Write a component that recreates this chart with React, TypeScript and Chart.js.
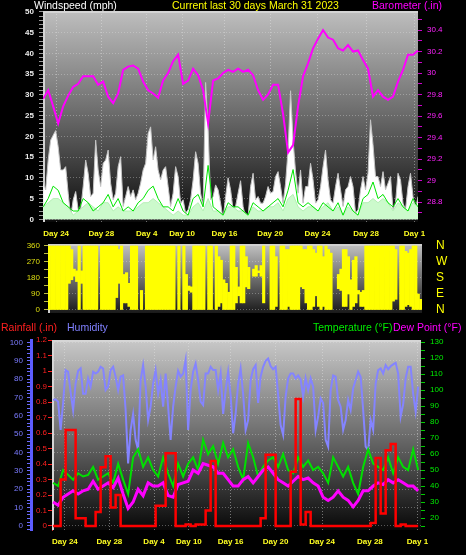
import React, { useEffect, useRef } from 'react';
import { Chart, registerables } from 'chart.js';

Chart.register(...registerables);

const FONT = "'Liberation Sans', Arial, Helvetica, sans-serif";

// ---- time axis (percent of the 30-day window) ----
const TICK_LABELS = ['Day 24', 'Day 28', 'Day 4', 'Day 10', 'Day 16', 'Day 20', 'Day 24', 'Day 28', 'Day 1'];
const TICK_POS = [3.5, 15.55, 27.65, 37.1, 48.4, 60.6, 73.2, 86.15, 99.05];
const TOP_SPAN = [0.05, 100];
const BOTTOM_SPAN = [0.3, 99.23];

// ---- top panel: wind (mph) + barometer (in) ----
const BAROMETER = [
  29.76, 29.84, 29.69, 29.53, 29.69, 29.79, 29.87, 29.9, 29.97, 29.97,
  29.97, 29.89, 29.92, 29.78, 29.72, 29.81, 30.03, 30.06, 30.07, 30.04,
  29.92, 29.84, 29.81, 29.77, 29.93, 30.0, 30.11, 30.17, 29.9, 29.93,
  30.04, 29.98, 29.84, 29.53, 29.93, 29.95, 30.0, 30.03, 30.01,
  30.04, 30.01, 30.03, 29.98, 29.84, 29.75, 29.8, 29.89, 29.89, 29.62,
  29.26, 29.33, 29.69, 29.97, 30.09, 30.23, 30.32, 30.4, 30.33, 30.31,
  30.23, 30.21, 30.26, 30.2, 30.21, 30.12, 30.04, 29.78, 29.84, 29.78,
  29.75, 29.78, 29.92, 30.03, 30.17, 30.17, 30.21,
];
const WIND_GUST = [
  9.2, 7.1, 14.3, 19.1, 20.3, 21.4, 17.5, 11.9, 11.9, 12.7,
  6.3, 0.6, 4.7, 6.7, 2.3, 2.3, 7.9, 14.3, 11.1, 5.5,
  6.3, 19.1, 11.9, 7.9, 13.5, 14.3, 16.7, 8.7, 4.7, 6.3,
  12.7, 15.1, 3.1, 5.5, 7.9, 5.5, 7.1, 4.7, 6.3, 8.7,
  11.9, 13.5, 20.7, 22.3, 14.3, 17.5, 11.9, 9.5, 11.9, 12.7,
  7.9, 3.1, 6.3, 12.7, 10.3, 3.9, 4.7, 1.5, 2.3, 4.7,
  9.5, 16.3, 13.5, 6.3, 3.1, 33, 22, 4.7, 5.5, 8.3,
  7.1, 3.9, 0, 5.5, 10, 7.1,
  2.3, 3.1, 6.3, 9.3, 3.1, 0.6, 0.6, 7.9, 11.1, 4.7,
  5.5, 3.9, 3.9, 5.5, 7.9, 6.3, 6.7, 10.3, 11.5, 7.9,
  3.9, 8.7, 16.7, 31, 19.1, 11.5, 6.3, 11.9, 3.9, 7.9,
  7.9, 13.5, 9.5, 3.9, 4.7, 7.9, 12.7, 16.7, 9.5, 4.7,
  3.9, 7.9, 11.1, 7.1, 3.1, 7.1, 7.9, 10.3, 7.9, 1.5,
  2.3, 7.1, 10.3, 7.1, 11.1, 24, 18, 10.3, 10.3, 7.9,
  11.5, 7.1, 8.7, 10.3, 2.3, 3.9, 11.1, 9.5, 3.9, 2.3,
  7.9, 11.1, 5.5, 2.3, 5.5,
];
const WIND_SPEED = [
  3, 5, 8, 7, 4, 3, 2, 2, 5, 4, 2, 3, 4, 6, 3, 5, 2, 3, 2, 4,
  5, 7, 8, 5, 3, 3, 2, 5, 2, 1, 5, 6, 3, 13, 3, 2, 1, 4, 3,
  3, 2, 1, 4, 3, 2, 3, 4, 5, 3, 7, 12, 4, 3, 4, 3, 2, 4, 3, 2,
  4, 1, 4, 2, 1, 5, 6, 9, 5, 6, 4, 3, 5, 3, 2, 5, 3,
];
const WIND_AVG = [
  3, 4, 5, 5, 4, 3, 1, 2, 3, 4, 3, 2, 4, 4, 2, 3, 2, 2, 2, 3,
  4, 4, 5, 4, 3, 2, 1, 2, 1, 1, 3, 4, 2, 5, 2, 2, 1, 3, 3,
  2, 2, 1, 3, 2, 2, 3, 3, 4, 2, 5, 6, 3, 2, 3, 3, 2, 3, 4, 2,
  3, 1, 3, 2, 1, 4, 4, 5, 4, 5, 4, 2, 4, 3, 2, 4, 3,
];

// ---- middle panel: wind direction range per bin (degrees), null = no reading ----
const DIR_LOW: (number | null)[] = [
  0, 0, 0, 0, 0, 0, 0, 0, 150, 170,
  190, 160, 0, 150, 0, 0, 0, 0, 0, 0,
  null, 0, 0, 0, 0, 0, 0, 70, 150, 0,
  40, 40, 20, 0, 0, 0, null, 0, null, 0,
  0, 0, 0, 0, 0, 0, 0, 0, 0, 0,
  0, null, 0, null, 0, 0, 110, 100, 0, 0,
  0, 0, 0, null, 0, 0, null, 0, 20, 40,
  0, 0, 0, 0, 0, 40, 80, 40, 40, 130,
  120, null, 190, 190, 210, 190, 40, null, null, 0,
  0, 20, null, 0, 0, 0, 20, 0, 0, 0,
  0, 130, 120, 40, 0, 0, 20, 80, 20, 0,
  20, 0, 0, 0, null, null, 120, 110, 20, 20,
  90, 0, 20, 40, 90, 20, 20, 0, 0, 0,
  0, 0, 0, 0, 0, 0, 0, 0, 50, 60,
  null, 0, 0, 20, 30, 20, 0, 0, 0, 0,
];
const DIR_HIGH: (number | null)[] = [
  360, 360, 360, 360, 360, 360, 360, 360, 360, 340,
  230, 220, 360, 220, 360, 360, 360, 360, 360, 360,
  null, 360, 360, 360, 360, 360, 360, 360, 340, 360,
  200, 210, 150, 360, 360, 360, null, 110, null, 360,
  360, 360, 360, 360, 360, 360, 360, 360, 360, 360,
  360, null, 360, null, 360, 200, 135, 130, 360, 360,
  360, 360, 360, null, 360, 360, null, 360, 300, 280,
  170, 150, 100, 360, 360, 240, 130, 360, 360, 300,
  240, null, 230, 250, 220, 250, 360, null, null, 360,
  360, 300, null, 360, 360, 340, 340, 360, 360, 360,
  360, 360, 340, 340, 360, 360, 340, 320, 360, 360,
  300, 360, 340, 320, null, null, 200, 230, 340, 340,
  300, 170, 280, 300, 110, 100, 110, 360, 360, 360,
  360, 360, 360, 360, 360, 360, 360, 360, 360, 340,
  null, 360, 360, 330, 320, 340, 360, 360, 90, 60,
];
const COMPASS: Record<number, string> = { 0: 'N', 90: 'E', 180: 'S', 270: 'W', 360: 'N' };

// ---- bottom panel ----
const HUMIDITY = [
  68.6, 69, 67.7, 52.3, 67, 84.9, 84, 73, 63, 77.6,
  84.5, 85.8, 72, 72, 80.4, 75.9, 84, 83, 84, 86.7,
  85.8, 74, 75.9, 84.9, 86.7, 81.3, 74, 81.3, 82, 63.2,
  34, 52.3, 61, 46.9, 41.4, 79.5, 87.6, 75.9, 57.7, 65,
  77.6, 84.9, 72, 79.5, 65, 83, 65, 46.9, 65, 75.9,
  84.5, 81.3, 83, 90.4, 52.3, 74, 84, 88.5, 79.5, 67.7,
  65.9, 83, 83, 86.7, 84.9, 84.9, 74, 83, 61, 74,
  84, 71, 50.5, 61, 77.6, 85.8, 72, 52.3, 57.7, 79.5,
  85.4, 87.6, 67, 81.3, 86.7, 90, 91.2, 87, 85.4, 86.7,
  71.3, 55, 49.6, 70.5, 80.4, 83, 83, 80.4, 82, 79.8,
  70.5, 80.4, 74, 80.4, 75.9, 52.3, 59.6, 69.5, 67, 46.9,
  43.2, 74, 82, 81.3, 68.6, 65, 52.3, 57.7, 68.6, 63.2,
  75, 79.5, 84, 81.3, 63.2, 43.2, 41.4, 57.7, 52.3, 77.6,
  84.9, 85.8, 83, 87.6, 85.4, 87, 88, 88.9, 83, 59.6,
  66.3, 80.4, 86.7, 86.7, 72, 62.3, 75.9,
];
const TEMPERATURE = [
  42, 40, 50, 47, 44, 48, 46, 47, 52, 44, 46, 48, 42, 54, 44, 35, 58, 63, 52, 58,
  50, 46, 58, 48, 40, 54, 46, 54, 58, 50, 69, 60, 65, 54, 67, 58, 63,
  52, 44, 67, 58, 46, 52, 56, 58, 52, 60, 50, 48, 58, 52, 56, 50, 52, 48, 42, 58,
  52, 46, 52, 42, 35, 52, 63, 54, 52, 50, 58, 48, 58, 52, 50, 63, 50,
];
const DEW_POINT = [
  30, 28, 33, 35, 37, 35, 37, 38, 43, 38, 40, 42, 39, 45, 35, 26, 30, 38, 34, 42,
  40, 40, 42, 34, 33, 41, 42, 43, 50, 48, 54, 53, 52, 48, 48, 44, 40,
  40, 44, 46, 42, 46, 50, 52, 48, 44, 42, 40, 43, 46, 44, 45, 42, 40, 33, 31, 33,
  37, 33, 31, 27, 31, 37, 37, 40, 42, 41, 44, 42, 44, 42, 40, 40, 37,
];
const RAINFALL = [
  0, 0, 0.3, 0.62, 0.62, 0.05, 0.05, 0, 0, 0.09, 0.38, 0.45, 0.12, 0.2, 0, 0, 0, 0, 0, 0,
  0, 0.13, 0.13, 0.47, 0.47, 0, 0, 0.01, 0, 0.01, 0.01, 0.1, 0.42, 0, 0, 0, 0,
  0, 0, 0, 0, 0, 0.05, 0.46, 0.46, 0, 0, 0, 0.35, 0.82, 0.01, 0.09, 0, 0, 0, 0, 0,
  0, 0, 0, 0, 0, 0, 0, 0.02, 0.44, 0.08, 0.49, 0.53, 0, 0.01, 0, 0, 0,
];

// ---- helpers ----
const series = (vals: number[], span: number[]) =>
  vals.map((y, i) => ({ x: span[0] + ((span[1] - span[0]) * i) / (vals.length - 1), y }));
const near = (v: number, step: number) => Math.abs(v / step - Math.round(v / step)) < 1e-6;
const fmt = (v: number) => String(Math.round(v * 10) / 10);
const tickVal = (ctx: any) => (ctx && ctx.tick ? ctx.tick.value : NaN);

const fixAxis = (width?: number, height?: number) => (s: any) => {
  if (width !== undefined) s.width = width;
  if (height !== undefined) s.height = height;
  s.paddingTop = 0;
  s.paddingBottom = 0;
  s.paddingLeft = 0;
  s.paddingRight = 0;
};

const backdrop = (stops: [number, string][], frame: string) => ({
  id: 'backdrop',
  beforeDraw(chart: any) {
    const { ctx, chartArea: a } = chart;
    const g = ctx.createLinearGradient(0, a.top, 0, a.bottom);
    stops.forEach(([o, c]) => g.addColorStop(o, c));
    ctx.save();
    ctx.fillStyle = g;
    ctx.fillRect(a.left, a.top, a.right - a.left, a.bottom - a.top);
    ctx.restore();
  },
  beforeDatasetsDraw(chart: any) {
    const { ctx, chartArea: a } = chart;
    ctx.save();
    ctx.strokeStyle = frame;
    ctx.lineWidth = 2;
    ctx.beginPath();
    ctx.moveTo(a.left + 1, a.bottom);
    ctx.lineTo(a.left + 1, a.top + 1);
    ctx.lineTo(a.right, a.top + 1);
    ctx.stroke();
    ctx.restore();
  },
});

const timeAxis = (height: number, padding: number) => ({
  type: 'linear',
  min: 0,
  max: 100,
  afterBuildTicks: (s: any) => {
    s.ticks = TICK_POS.map((value) => ({ value }));
  },
  afterFit: fixAxis(undefined, height),
  ticks: {
    autoSkip: false,
    maxRotation: 0,
    minRotation: 0,
    padding,
    color: '#ffff22',
    font: { family: FONT, size: 8, weight: 'bold' },
    callback: (_v: any, i: number) => TICK_LABELS[i],
  },
  grid: { color: 'rgba(230,230,230,0.45)', drawTicks: false, lineWidth: 1 },
  border: { display: false, dash: [1, 2] },
});

const valueAxis = (o: {
  position: string; min: number; max: number; step: number; major: number; width: number;
  color: string; tickColor: string; tickLength: number; padding: number; grid?: boolean;
  label?: (v: number) => string; weight?: number; border?: any; size?: number; bold?: boolean;
}) => ({
  type: 'linear',
  position: o.position,
  weight: o.weight || 0,
  min: o.min,
  max: o.max,
  afterFit: fixAxis(o.width),
  ticks: {
    stepSize: o.step,
    autoSkip: false,
    includeBounds: false,
    padding: o.padding,
    color: o.color,
    font: { family: FONT, size: o.size || 8, weight: o.bold ? 'bold' : 'normal' },
    callback: (v: number) => (near(v, o.major) ? (o.label ? o.label(v) : fmt(v)) : ''),
  },
  grid: {
    drawOnChartArea: !!o.grid,
    color: (ctx: any) => (o.grid && near(tickVal(ctx), o.major) ? 'rgba(230,230,230,0.35)' : 'rgba(0,0,0,0)'),
    tickColor: o.tickColor,
    tickLength: o.tickLength,
    drawTicks: o.tickLength > 0,
  },
  border: o.border || { display: false, dash: [1, 2] },
});

const baseOptions = {
  animation: false,
  responsive: false,
  maintainAspectRatio: false,
  events: [],
  plugins: { legend: { display: false }, tooltip: { enabled: false }, title: { display: false } },
};

function topConfig(): any {
  return {
    type: 'line',
    data: {
      datasets: [
        { label: 'Barometer', data: series(BAROMETER, TOP_SPAN), yAxisID: 'yB', borderColor: '#ff00ff', borderWidth: 2, pointRadius: 0, fill: false, order: 0 },
        { label: 'Wind speed', data: series(WIND_SPEED, TOP_SPAN), yAxisID: 'yW', borderColor: '#00e600', borderWidth: 1, pointRadius: 0, fill: false, order: 1 },
        { label: 'Average wind', data: series(WIND_AVG, TOP_SPAN), yAxisID: 'yW', borderColor: '#b4f0b4', backgroundColor: '#ccfacc', borderWidth: 1, pointRadius: 0, fill: 'origin', order: 2 },
        { label: 'Gust', data: series(WIND_GUST, TOP_SPAN), yAxisID: 'yW', borderColor: '#c4c4c4', backgroundColor: '#ffffff', borderWidth: 1, pointRadius: 0, fill: 'origin', order: 3 },
      ],
    },
    options: {
      ...baseOptions,
      layout: { padding: { top: 11, bottom: 0, left: 0, right: 0 } },
      scales: {
        x: timeAxis(24, 7),
        yW: valueAxis({ position: 'left', min: -0.65, max: 50.24, step: 1, major: 5, width: 43, color: '#ececec', tickColor: '#9a9a9a', tickLength: 4, padding: 5, grid: true, bold: true }),
        yB: valueAxis({ position: 'right', min: 28.614, max: 30.577, step: 0.1, major: 0.2, width: 48, color: '#ff22ff', tickColor: '#cc00cc', tickLength: 4, padding: 5 }),
      },
    },
    plugins: [backdrop([[0, '#bebebe'], [0.45, '#727272'], [1, '#0a0a0a']], '#d4d4d4')],
  };
}

function midConfig(): any {
  return {
    type: 'bar',
    data: {
      labels: DIR_LOW.map((_, i) => String(i)),
      datasets: [
        {
          label: 'Direction',
          data: DIR_LOW.map((lo, i) => (lo === null || DIR_HIGH[i] === null ? null : [lo, DIR_HIGH[i]])),
          backgroundColor: '#ffff00',
          borderWidth: 0,
          barPercentage: 1,
          categoryPercentage: 1,
        },
      ],
    },
    options: {
      ...baseOptions,
      layout: { padding: { top: 8, bottom: 7, left: 0, right: 0 } },
      scales: {
        x: { display: false },
        y: valueAxis({ position: 'left', min: -16.9, max: 371.2, step: 45, major: 90, width: 48, color: '#dede10', tickColor: '#bdbd40', tickLength: 4, padding: 4, grid: true }),
        y2: valueAxis({ position: 'right', min: -16.9, max: 371.2, step: 90, major: 90, width: 44, color: '#ffff00', tickColor: '#000', tickLength: 0, padding: 14, size: 12, label: (v: number) => COMPASS[Math.round(v)] || '' }),
      },
    },
    plugins: [backdrop([[0, '#c2c2c2'], [0.5, '#6e6e6e'], [1, '#1a1a1a']], '#d0d0d0')],
  };
}

function bottomConfig(): any {
  return {
    type: 'line',
    data: {
      datasets: [
        { label: 'Rainfall', data: series(RAINFALL, BOTTOM_SPAN), yAxisID: 'yR', borderColor: '#ff0000', borderWidth: 2.5, stepped: 'middle', pointRadius: 0, fill: false, order: 0 },
        { label: 'Dew Point', data: series(DEW_POINT, BOTTOM_SPAN), yAxisID: 'yT', borderColor: '#ff00ff', borderWidth: 3, pointRadius: 0, fill: false, order: 1 },
        { label: 'Temperature', data: series(TEMPERATURE, BOTTOM_SPAN), yAxisID: 'yT', borderColor: '#00e000', borderWidth: 2, pointRadius: 0, fill: false, order: 2 },
        { label: 'Humidity', data: series(HUMIDITY, BOTTOM_SPAN), yAxisID: 'yH', borderColor: '#8484ff', borderWidth: 2, pointRadius: 0, fill: false, order: 3 },
      ],
    },
    options: {
      ...baseOptions,
      layout: { padding: { top: 8, bottom: 0, left: 0, right: 0 } },
      scales: {
        x: timeAxis(25, 7),
        yR: valueAxis({ position: 'left', weight: 0, min: -0.026, max: 1.2016, step: 0.1, major: 0.1, width: 21, color: '#ff2020', tickColor: '#ff2020', tickLength: 4, padding: 1, border: { display: true, color: 'rgba(255,60,60,0.8)', width: 1 } }),
        yH: valueAxis({ position: 'left', weight: 1, min: -2.2, max: 101.3, step: 2, major: 10, width: 31, color: '#7b7bff', tickColor: '#6a6aff', tickLength: 4, padding: 4, grid: true, label: (v: number) => String(Math.round(v)), border: { display: true, color: '#5c5cff', width: 3, dash: [1, 2] } }),
        yT: valueAxis({ position: 'right', min: 12.5, max: 131.4, step: 5, major: 10, width: 45, color: '#00ee00', tickColor: '#00cc00', tickLength: 4, padding: 5, label: (v: number) => String(Math.round(v)) }),
      },
    },
    plugins: [backdrop([[0, '#c8c8c8'], [0.45, '#767676'], [1, '#080808']], '#d6d6d6')],
  };
}

const textStyle = (left: number, top: number, color: string): React.CSSProperties => ({
  position: 'absolute',
  left,
  top,
  color,
  fontFamily: FONT,
  fontSize: '10.5px',
  lineHeight: '11px',
  whiteSpace: 'nowrap',
});

export default function App() {
  const topRef = useRef<HTMLCanvasElement>(null);
  const midRef = useRef<HTMLCanvasElement>(null);
  const botRef = useRef<HTMLCanvasElement>(null);

  useEffect(() => {
    const charts = [
      new Chart(topRef.current as HTMLCanvasElement, topConfig()),
      new Chart(midRef.current as HTMLCanvasElement, midConfig()),
      new Chart(botRef.current as HTMLCanvasElement, bottomConfig()),
    ];
    return () => charts.forEach((c) => c.destroy());
  }, []);

  return (
    <div style={{ position: 'absolute', left: 0, top: 0, width: 466, height: 555, background: '#000', overflow: 'hidden' }}>
      <canvas ref={topRef} width={466} height={246} style={{ position: 'absolute', left: 0, top: 0 }} />
      <canvas ref={midRef} width={466} height={84} style={{ position: 'absolute', left: 0, top: 236 }} />
      <canvas ref={botRef} width={466} height={223} style={{ position: 'absolute', left: 0, top: 332 }} />
      <div style={textStyle(34, 0, '#ffffff')}>Windspeed (mph)</div>
      <div style={textStyle(172, 0, '#ffff00')}>Current last 30 days March 31 2023</div>
      <div style={textStyle(372, 0, '#ff00ff')}>Barometer (.in)</div>
      <div style={textStyle(1, 322, '#ff2020')}>Rainfall (.in)</div>
      <div style={textStyle(67, 322, '#8080ff')}>Humidity</div>
      <div style={textStyle(313, 322, '#00ee00')}>Temperature (°F)</div>
      <div style={textStyle(393, 322, '#ff00ff')}>Dew Point (°F)</div>
    </div>
  );
}
